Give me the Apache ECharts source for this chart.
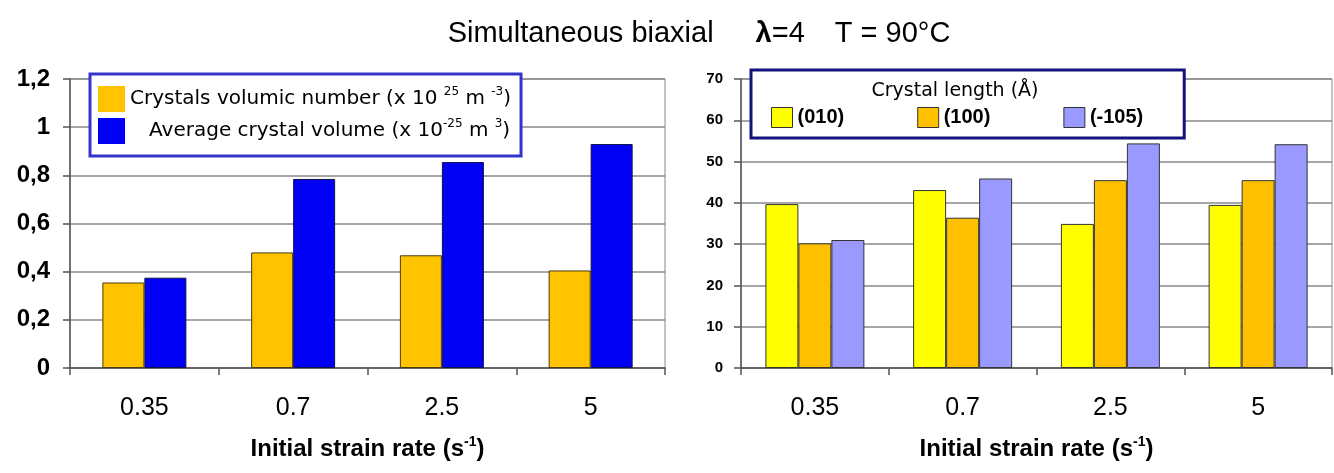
<!DOCTYPE html>
<html>
<head>
<meta charset="utf-8">
<script src="https://cdn.jsdelivr.net/npm/echarts@6/dist/echarts.min.js"></script>
<style>
html,body{margin:0;padding:0;background:#fff;}
#chart{width:1334px;height:473px;}
</style>
</head>
<body>
<div id="chart"></div>
<script>
const categories = ['0.35', '0.7', '2.5', '5'];
const volumicNumber = [0.355, 0.48, 0.468, 0.405];
const averageVolume = [0.375, 0.785, 0.855, 0.93];
const length010 = [39.7, 43.1, 34.9, 39.5];
const length100 = [30.2, 36.4, 45.5, 45.5];
const lengthM105 = [31.0, 45.9, 54.4, 54.2];
const leftSeriesNames = ['Crystals volumic number', 'Average crystal volume'];
const rightSeriesNames = ['(010)', '(100)', '(-105)'];

const FONT = '"Liberation Sans", Arial, sans-serif';
const WIDE = '"DejaVu Sans", "Liberation Sans", sans-serif';
const chart = echarts.init(document.getElementById('chart'), null, {renderer: 'canvas'});

const legendLabels = {
  'Crystals volumic number': '{t|Crystals volumic number (x 10 }{s|25}{t| m }{s|-3}{t|)}',
  'Average crystal volume': '{t|   Average crystal volume (x 10}{s|-25}{t| m }{s|3}{t|)}'
};

const axisTitle = '{b|Initial strain rate (s}{bs|-1}{b|)}';
const axisTitleRich = {
  b: {fontFamily: FONT, fontWeight: 'bold', fontSize: 24, color: '#000', lineHeight: 28},
  bs: {fontFamily: FONT, fontWeight: 'bold', fontSize: 14, color: '#000', verticalAlign: 'top', lineHeight: 28}
};

function commaFmt(v) {
  return String(Math.round(v * 10) / 10).replace('.', ',');
}

function xAxisFor(idx) {
  return {
    gridIndex: idx, type: 'category', data: categories,
    axisLine: {lineStyle: {color: '#555', width: 1.5}},
    axisTick: {show: true, length: 7, lineStyle: {color: '#555', width: 1.5}},
    axisLabel: {fontFamily: FONT, fontSize: 25, color: '#000', margin: 28},
    name: axisTitle, nameLocation: 'middle', nameGap: 67,
    nameTextStyle: {rich: axisTitleRich}
  };
}

const option = {
  animation: false,
  backgroundColor: '#fff',
  graphic: [
    {
      type: 'text', z: 10,
      style: {
        x: 699, y: 34, align: 'center', verticalAlign: 'middle',
        text: '{a|Simultaneous biaxial}{sp1| }{l|λ}{a|=4}{sp2| }{a|T = 90°C}',
        rich: {
          a: {fontFamily: FONT, fontSize: 29, fill: '#000'},
          l: {fontFamily: FONT, fontSize: 29, fontWeight: 'bold', fill: '#000'},
          sp1: {width: 42, fontSize: 29},
          sp2: {width: 30, fontSize: 29}
        }
      }
    },
    {
      type: 'text', z: 10,
      style: {
        x: 955, y: 91, align: 'center', verticalAlign: 'middle',
        text: 'Crystal length (Å)',
        font: '19px ' + WIDE, fill: '#000'
      }
    }
  ],
  legend: [
    {
      data: leftSeriesNames,
      orient: 'vertical',
      left: 90, top: 74,
      padding: [12, 10, 12, 8],
      itemWidth: 27, itemHeight: 26, itemGap: 6,
      backgroundColor: '#fff',
      borderColor: '#3434cc', borderWidth: 3,
      icon: 'rect',
      itemStyle: {borderWidth: 0},
      formatter: name => legendLabels[name],
      textStyle: {
        fontFamily: WIDE, fontSize: 20, color: '#000',
        rich: {
          t: {fontFamily: WIDE, fontSize: 20, color: '#000', lineHeight: 26},
          s: {fontFamily: WIDE, fontSize: 12, color: '#000', verticalAlign: 'top', lineHeight: 26}
        }
      }
    },
    {
      data: rightSeriesNames,
      orient: 'horizontal',
      left: 751, top: 70,
      padding: [37, 41, 10, 20],
      itemWidth: 21, itemHeight: 20, itemGap: 73,
      backgroundColor: '#fff',
      borderColor: '#12127a', borderWidth: 3,
      icon: 'rect',
      itemStyle: {borderWidth: 1, borderColor: '#333'},
      textStyle: {fontFamily: FONT, fontSize: 20, fontWeight: 'bold', color: '#000'}
    }
  ],
  grid: [
    {left: 70, top: 79, width: 595, height: 289, show: true, borderColor: '#888', borderWidth: 1, backgroundColor: '#fff', outerBoundsMode: 'none'},
    {left: 741, top: 79, width: 591, height: 289, show: true, borderColor: '#888', borderWidth: 1, backgroundColor: '#fff', outerBoundsMode: 'none'}
  ],
  xAxis: [xAxisFor(0), xAxisFor(1)],
  yAxis: [
    {
      gridIndex: 0, type: 'value', min: 0, max: 1.2, interval: 0.2,
      axisLine: {show: true, lineStyle: {color: '#555', width: 1.5}},
      axisTick: {show: true, length: 7, lineStyle: {color: '#555', width: 1.5}},
      axisLabel: {fontFamily: FONT, fontSize: 24, fontWeight: 'bold', color: '#000', margin: 20, formatter: commaFmt},
      splitLine: {show: true, lineStyle: {color: '#888', width: 1.5}}
    },
    {
      gridIndex: 1, type: 'value', min: 0, max: 70, interval: 10,
      axisLine: {show: true, lineStyle: {color: '#555', width: 1.5}},
      axisTick: {show: true, length: 7, lineStyle: {color: '#555', width: 1.5}},
      axisLabel: {fontFamily: FONT, fontSize: 15, fontWeight: 'bold', color: '#000', margin: 18},
      splitLine: {show: true, lineStyle: {color: '#888', width: 1.5}}
    }
  ],
  series: [
    {
      name: leftSeriesNames[0], type: 'bar', xAxisIndex: 0, yAxisIndex: 0,
      data: volumicNumber, barWidth: 42, barGap: '0%',
      itemStyle: {color: '#FFC300', borderColor: '#4a3a10', borderWidth: 1}
    },
    {
      name: leftSeriesNames[1], type: 'bar', xAxisIndex: 0, yAxisIndex: 0,
      data: averageVolume, barWidth: 42, barGap: '0%',
      itemStyle: {color: '#0000F5', borderColor: '#10104a', borderWidth: 1}
    },
    {
      name: rightSeriesNames[0], type: 'bar', xAxisIndex: 1, yAxisIndex: 1,
      data: length010, barWidth: 33, barGap: '0%',
      itemStyle: {color: '#FFFF00', borderColor: '#333', borderWidth: 1}
    },
    {
      name: rightSeriesNames[1], type: 'bar', xAxisIndex: 1, yAxisIndex: 1,
      data: length100, barWidth: 33, barGap: '0%',
      itemStyle: {color: '#FFC000', borderColor: '#333', borderWidth: 1}
    },
    {
      name: rightSeriesNames[2], type: 'bar', xAxisIndex: 1, yAxisIndex: 1,
      data: lengthM105, barWidth: 33, barGap: '0%',
      itemStyle: {color: '#9999FF', borderColor: '#333', borderWidth: 1}
    }
  ]
};
chart.setOption(option);
</script>
</body>
</html>
